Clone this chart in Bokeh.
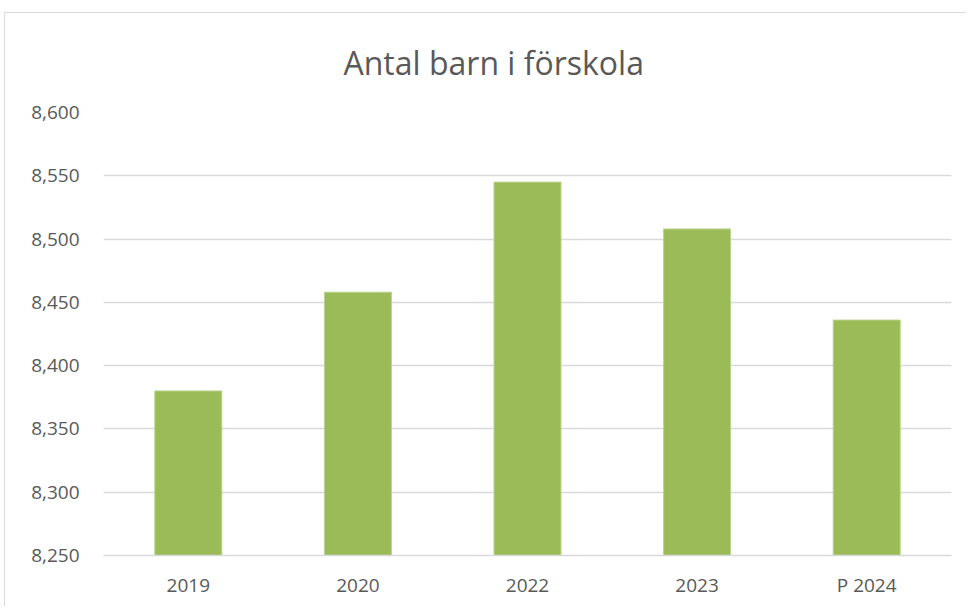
from bokeh.plotting import figure
from bokeh.models import ColumnDataSource, NumeralTickFormatter, FixedTicker, Range1d
from bokeh.embed import file_html
from bokeh.resources import INLINE

years = ["2019", "2020", "2022", "2023", "P 2024"]
children = [8380, 8458, 8545, 8508, 8436]
y_ticks = [8250, 8300, 8350, 8400, 8450, 8500, 8550, 8600]

src = ColumnDataSource(dict(x=years, top=children))

p = figure(x_range=years, y_range=Range1d(8250, 8600), width=962, height=594,
           output_backend="svg", toolbar_location=None,
           title="Antal barn i förskola",
           min_border_left=98, min_border_right=16, min_border_top=99, min_border_bottom=52)

p.vbar(x="x", top="top", bottom=8250, width=0.395, source=src,
       fill_color="#9bbb59", line_color="#b9d38a", line_width=1)

p.title.align = "left"
p.title.offset = 240
p.title.vertical_align = "top"
p.title.text_font = "Open Sans"
p.title.text_font_size = "32px"
p.title.text_font_style = "normal"
p.title.text_color = "#595959"
p.title.standoff = 54

p.outline_line_color = None
p.background_fill_color = "white"
p.border_fill_color = "white"

p.xgrid.grid_line_color = None
p.ygrid.grid_line_color = "#d9d9d9"
p.ygrid.grid_line_width = 1.5
p.yaxis.ticker = FixedTicker(ticks=y_ticks)
p.yaxis.formatter = NumeralTickFormatter(format="0,0")
p.yaxis.axis_line_color = None
p.yaxis.major_tick_line_color = None
p.yaxis.minor_tick_line_color = None
p.yaxis.major_label_standoff = 18

p.xaxis.axis_line_color = "#d9d9d9"
p.xaxis.axis_line_width = 1.5
p.xaxis.major_tick_line_color = None
p.xaxis.minor_tick_line_color = None
p.xaxis.major_label_standoff = 10

for ax in (p.xaxis, p.yaxis):
    ax.major_label_text_font = "Open Sans"
    ax.major_label_text_font_size = "19px"
    ax.major_label_text_color = "#595959"

p.styles = {"border-left": "1px solid #d9d9d9", "border-top": "1px solid #d9d9d9",
            "margin-left": "4px", "margin-top": "12px"}

open("out.html", "w").write(file_html(p, INLINE))
